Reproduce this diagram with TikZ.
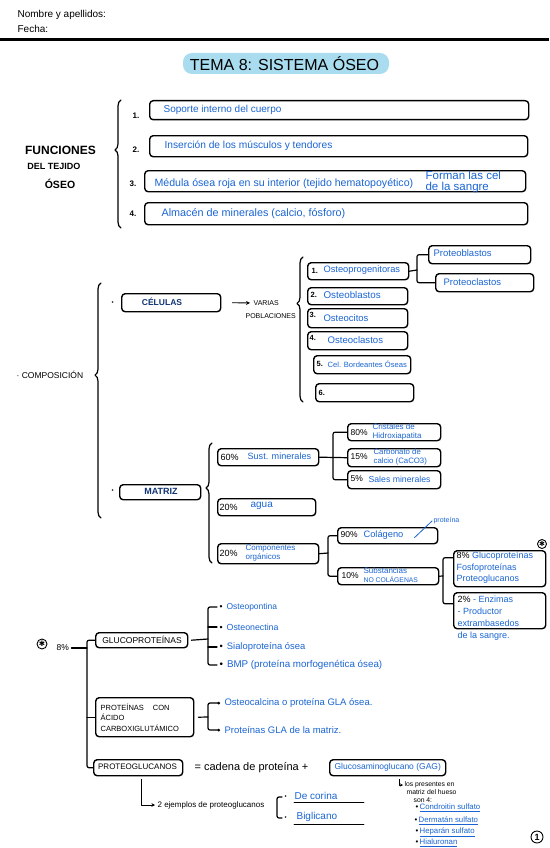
\documentclass[tikz,border=0pt]{standalone}
\usepackage{fontspec}
\setmainfont{Liberation Sans}
\newfontfamily\djv{DejaVu Sans}
\usetikzlibrary{decorations.pathreplacing,arrows.meta}
\definecolor{ink}{RGB}{25,100,210}
\definecolor{navy}{RGB}{15,50,115}
\definecolor{hl}{RGB}{168,220,238}
\begin{document}
\begin{tikzpicture}[x=1pt,y=-1pt,
  line width=1.2pt, line cap=round, line join=round,
  bx/.style={draw, line width=1.4pt, rounded corners=3.5pt, inner sep=0pt, anchor=north west},
  tb/.style={text=ink, inner sep=0pt, anchor=west},
  tk/.style={text=black, inner sep=0pt, anchor=west},
  tc/.style={inner sep=0pt, anchor=center},
  sz/.style={font=\fontsize{#1}{12}\selectfont},
  br/.style={decorate, decoration={brace, amplitude=6pt, aspect=#1}},
  rc/.style={rounded corners=2pt},
  num/.style={text=black, inner sep=0pt, anchor=west, font=\fontsize{7.5}{9}\bfseries\selectfont},
]
\useasboundingbox (0,0) rectangle (549,848);

% ---------- header
\node[tk,sz=10] (nom) at (17,15) {Nombre y apellidos:};
\node[tk,sz=10] (fec) at (17,29) {Fecha:};
\draw[line width=3pt, line cap=butt] (0,40) -- (549,40);
\fill[hl, rounded corners=9pt] (183,53) rectangle (389,74);
\node[tc,sz=16] (title) at (284.5,64) {TEMA 8: SISTEMA ÓSEO};

% ---------- funciones
\node[tc,font=\fontsize{12}{12}\bfseries\selectfont] (fa) at (60.5,150) {FUNCIONES};
\node[tc,font=\fontsize{9}{9}\bfseries\selectfont] (fb) at (54,166) {DEL TEJIDO};
\node[tc,font=\fontsize{10.5}{10.5}\bfseries\selectfont] (fc) at (60,184) {ÓSEO};
\draw[br=0.61] (121,228) -- (121,100);

\node[num,font=\fontsize{8}{9}\bfseries\selectfont] (n1) at (132,116) {1.};
\node[num,font=\fontsize{8}{9}\bfseries\selectfont] (n2) at (132,150) {2.};
\node[num,font=\fontsize{8}{9}\bfseries\selectfont] (n3) at (129,184) {3.};
\node[num,font=\fontsize{8}{9}\bfseries\selectfont] (n4) at (129,214) {4.};

\node[bx,minimum width=379pt,minimum height=19pt] (F1) at (149,100) {};
\node[bx,minimum width=378pt,minimum height=21pt] (F2) at (149,135) {};
\node[bx,minimum width=381pt,minimum height=21pt] (F3) at (144,170) {};
\node[bx,minimum width=383pt,minimum height=22pt] (F4) at (144,202) {};

\node[tb,sz=10] (t1) at (163,110) {Soporte interno del cuerpo};
\node[tb,sz=10.2] (t2) at (164,146) {Inserción de los músculos y tendores};
\node[tb,sz=10.6] (t3) at (154,184) {Médula ósea roja en su interior (tejido hematopoyético)};
\node[tb,align=left,font=\fontsize{11.5}{11.5}\selectfont] (t3b) at (425,182) {Forman las cel\\de la sangre};
\node[tb,sz=10.8] (t4) at (161,214) {Almacén de minerales (calcio, fósforo)};

% ---------- composicion
\node[tk,sz=8.5] (comp) at (16,375) {· COMPOSICIÓN};
\draw[br=0.608] (101,518) -- (101,283);

\node[tk,sz=6] (bc) at (111,303) {•};
\node[bx,minimum width=99pt,minimum height=18pt] (CEL) at (121,293) {};
\node[tc,text=navy,font=\fontsize{8.5}{10}\bfseries\selectfont] (celt) at (162,302) {CÉLULAS};
\node[tk,sz=7] (var) at (253,303) {VARIAS};
\node[tk,sz=7] (pob) at (245,316) {POBLACIONES};
\draw[-{Stealth[length=4pt,width=4pt]}, line width=0.9pt] ([xshift=11pt]CEL.east) -- ([xshift=-3pt]var.west);

\draw[br=0.68] (303,402) -- (303,257);

\node[bx,minimum width=101pt,minimum height=17pt] (P1) at (307,262) {};
\node[bx,minimum width=102pt,minimum height=18pt] (PB) at (428,245) {};
\node[bx,minimum width=98pt,minimum height=18pt] (PC) at (435,273) {};
\node[bx,minimum width=100pt,minimum height=17pt] (P2) at (307,287) {};
\node[bx,minimum width=100pt,minimum height=19pt] (P3) at (307,308) {};
\node[bx,minimum width=100pt,minimum height=18pt] (P4) at (307,331) {};
\node[bx,minimum width=97pt,minimum height=18pt] (P5) at (313,355) {};
\node[bx,minimum width=98pt,minimum height=18pt] (P6) at (315,383) {};

\node[num] (m1) at (311,271) {1.};
\node[num] (m2) at (310,295) {2.};
\node[num] (m3) at (309,315) {3.};
\node[num] (m4) at (309,338) {4.};
\node[num] (m5) at (316,364) {5.};
\node[num] (m6) at (318,393) {6.};

\node[tb,sz=9.3] (q1) at (323,270) {Osteoprogenitoras};
\node[tb,sz=9.5] (pbt) at (433,253) {Proteoblastos};
\node[tb,sz=9.5] (pct) at (443,282) {Proteoclastos};
\node[tb,sz=9.8] (q2) at (323,295) {Osteoblastos};
\node[tb,sz=9.5] (q3) at (323,318) {Osteocitos};
\node[tb,sz=9.6] (q4) at (327,340) {Osteoclastos};
\node[tb,sz=7.6] (q5) at (327,364) {Cel. Bordeantes Óseas};

\coordinate (b1) at (417,270);
\draw (P1.east) -- (b1);
\draw[rc] (PB.west) -| (b1) |- (PC.west);

% ---------- matriz
\node[tk,sz=6] (bm) at (111,491) {•};
\node[bx,minimum width=81pt,minimum height=15pt] (MAT) at (119,484) {};
\node[tc,text=navy,font=\fontsize{9}{10}\bfseries\selectfont] (matt) at (161,491.5) {MATRIZ};
\draw[br=0.625] (212,563) -- (212,443);

\node[bx,minimum width=101pt,minimum height=17pt] (M60) at (217,448) {};
\node[bx,minimum width=98pt,minimum height=17pt] (M20a) at (217,498) {};
\node[bx,minimum width=101pt,minimum height=20pt] (M20c) at (217,543) {};
\node[tk,sz=9] (m60n) at (220,457) {60\%};
\node[tb,sz=9.1] (m60t) at (247,456) {Sust. minerales};
\node[tk,sz=9] (m20an) at (219,507) {20\%};
\node[tb,sz=10] (m20at) at (250,506) {agua};
\node[tk,sz=9] (m20cn) at (219,553) {20\%};
\node[tb,align=left,font=\fontsize{8}{9}\selectfont] (m20ct) at (245,553) {Componentes\\orgánicos};

\node[bx,minimum width=93pt,minimum height=17pt] (C80) at (347,423) {};
\node[bx,minimum width=93pt,minimum height=18pt] (C15) at (347,448) {};
\node[bx,minimum width=93pt,minimum height=18pt] (C5) at (347,470) {};
\node[tk,sz=8.5] (c80n) at (350,433) {80\%};
\node[tb,align=left,font=\fontsize{8}{9}\selectfont] (c80t) at (372,431.5) {Cristales de\\Hidroxiapatita};
\node[tk,sz=8.5] (c15n) at (350,457) {15\%};
\node[tb,align=left,font=\fontsize{7.8}{8.5}\selectfont] (c15t) at (373,457) {Carbonato de\\calcio (CaCO3)};
\node[tk,sz=8.5] (c5n) at (350,479) {5\%};
\node[tb,sz=8.7] (c5t) at (368,479) {Sales minerales};

\coordinate (b2) at (333,457);
\draw (M60.east) -- (C15.west);
\draw[rc] (C80.west) -| (b2) |- (C5.west);

\node[bx,minimum width=100pt,minimum height=16pt] (K90) at (337,527) {};
\node[bx,minimum width=101pt,minimum height=17pt] (K10) at (337,567) {};
\node[tk,sz=8.5] (k90n) at (340,535) {90\%};
\node[tb,sz=9.3] (k90t) at (363,535) {Colágeno};
\node[tb,sz=7] (prot) at (433,521) {proteína};
\draw[ink, line width=0.8pt] ([xshift=-24pt,yshift=-2pt]K90.east) -- ([xshift=-1pt]prot.west);
\node[tk,sz=8.5] (k10n) at (341,576) {10\%};
\node[tb,align=left,font=\fontsize{8}{9}\selectfont] (k10t) at (363,575.5) {Substancias\\{\fontsize{6.8}{9}\selectfont NO COLÁGENAS}};

\coordinate (b3) at (328,553);
\draw (M20c.east) -- (b3);
\draw[rc] (K90.west) -| (b3) |- (K10.west);

\node[bx,minimum width=92pt,minimum height=36pt] (S8) at (453,550) {};
\node[bx,minimum width=92pt,minimum height=36pt] (S2) at (453,592) {};
\node[tb,align=left,font=\fontsize{9}{11.5}\selectfont] (s8t) at (456,568) {{\color{black}8\%} Glucoproteínas\\Fosfoproteínas\\Proteoglucanos};
\node[draw,circle,line width=0.9pt,inner sep=0pt,minimum size=9pt,font=\djv\fontsize{7}{7}\selectfont] (ast2) at (542,544) {✱};
\node[tb,align=left,font=\fontsize{9}{12}\selectfont] (s2t) at (457,618) {{\color{black}2\%} - Enzimas\\- Productor\\extrambasedos\\de la sangre.};

\coordinate (b4) at (443,576);
\draw (K10.east) -- (b4);
\draw[rc] ([yshift=11pt]S8.west) -| (b4) |- ([yshift=7pt]S2.west);

% ---------- 8% section
\node[draw,circle,line width=0.9pt,inner sep=0pt,minimum size=10pt,font=\djv\fontsize{7.5}{7.5}\selectfont] (ast1) at (42,644) {✱};
\node[tk,sz=8.5] (p8) at (56,648) {8\%};
\coordinate (sp) at (87,0);

\node[bx,minimum width=92pt,minimum height=15pt] (GLU) at (95,632) {};
\node[tc,sz=8.5] (glut) at (142,640) {GLUCOPROTEÍNAS};
\node[bx,minimum width=98pt,minimum height=39pt] (PAC) at (95,697) {};
\node[tk,align=left,font=\fontsize{7.5}{10.5}\selectfont] (pact) at (100,717.5) {PROTEÍNAS\hspace{9pt}CON\\ÁCIDO\\CARBOXIGLUTÁMICO};
\node[bx,minimum width=89pt,minimum height=16pt] (PRG) at (93,759) {};
\node[tc,sz=8] (prgt) at (137.5,767) {PROTEOGLUCANOS};

\draw[rc] (GLU.west) -| (sp |- PRG.west) -- (PRG.west);
\draw ([xshift=2pt]p8.east) -- (p8.east -| sp);
\draw (PAC.west) -- (PAC.west -| sp);

\node[tb,sz=8.5] (o1) at (219,607) {{\color{black}•}\hspace{4pt}Osteopontina};
\node[tb,sz=8.8] (o2) at (219,627) {{\color{black}•}\hspace{4pt}Osteonectina};
\node[tb,sz=9.4] (o3) at (219,647) {{\color{black}•}\hspace{4pt}Sialoproteína ósea};
\node[tb,sz=9.8] (o4) at (219,665) {{\color{black}•}\hspace{4pt}BMP (proteína morfogenética ósea)};
\coordinate (b5) at (208,639);
\draw ([xshift=3pt]GLU.east) -- (b5);
\draw[rc] ([xshift=-2pt]o1.west) -| (b5) |- ([xshift=-2pt]o4.west);
\draw (b5 |- o2.west) -- ([xshift=-2pt]o2.west);
\draw (b5 |- o3.west) -- ([xshift=-2pt]o3.west);

\node[tb,sz=9.5] (r1) at (224,703) {Osteocalcina o proteína GLA ósea.};
\node[tb,sz=9.5] (r2) at (224,730) {Proteínas GLA de la matriz.};
\coordinate (b6) at (208,717);
\draw ([xshift=4pt]PAC.east) -- (b6);
\draw[rc, {Circle[open,length=2.5pt]}-{Circle[open,length=2.5pt]}] ([xshift=-4pt]r1.west) -| (b6) |- ([xshift=-4pt]r2.west);

% ---------- proteoglucanos
\node[tk,sz=11] (eq) at (194,768) {= cadena de proteína +};
\node[bx,minimum width=116pt,minimum height=16pt] (GAG) at (329,759) {};
\node[tb,sz=8.5] (gagt) at (334,767) {Glucosaminoglucano (GAG)};
\node[tk,align=left,font=\fontsize{6.8}{8}\selectfont] (lp) at (404,792) {los presentes en\\\hspace*{2pt}matriz del hueso\\\hspace*{9pt}son 4:};
\draw[-{Stealth[length=3pt,width=3pt]}, line width=0.7pt] ([xshift=12pt,yshift=-3pt]GAG.south) |- ([yshift=7pt,xshift=-1pt]lp.west);

\node[tb,sz=7.8] (g1) at (415,808) {{\color{black}•}\,\underline{Condroitin sulfato}};
\node[tb,sz=7.8] (g2) at (414,820.5) {{\color{black}•}\,\underline{Dermatán sulfato}};
\node[tb,sz=7.8] (g3) at (415,832) {{\color{black}•}\,\underline{Heparán sulfato}};
\node[tb,sz=7.8] (g4) at (415,843) {{\color{black}•}\,\underline{Hialuronan}};

\node[tk,sz=8] (ex) at (157,805) {2 ejemplos de proteoglucanos};
\draw[-{Stealth[length=3.5pt,width=3.5pt]}, line width=0.9pt] ([xshift=3pt,yshift=-3pt]PRG.south) |- ([xshift=-2pt]ex.west);

\node[tb,sz=10] (d1) at (294,796) {De corina};
\node[tb,sz=10] (d2) at (296,817) {Biglicano};
\node[tk,sz=6] (db1) at (284,797) {•};
\node[tk,sz=6] (db2) at (284,818) {•};
\draw[line width=0.7pt] (d1.south west) ++(0,2) -- ++(70,0);
\draw[line width=0.7pt] (d2.south west) ++(-2,2) -- ++(70,0);
\coordinate (b7) at (277,808);
\draw[rc] ([xshift=-2pt]db1.west) -| (b7) |- ([xshift=-2pt]db2.west);

\node[draw,circle,line width=0.9pt,inner sep=1pt,minimum size=12pt,font=\fontsize{9}{9}\bfseries\selectfont] (pg) at (537,837) {1};
\end{tikzpicture}
\end{document}
